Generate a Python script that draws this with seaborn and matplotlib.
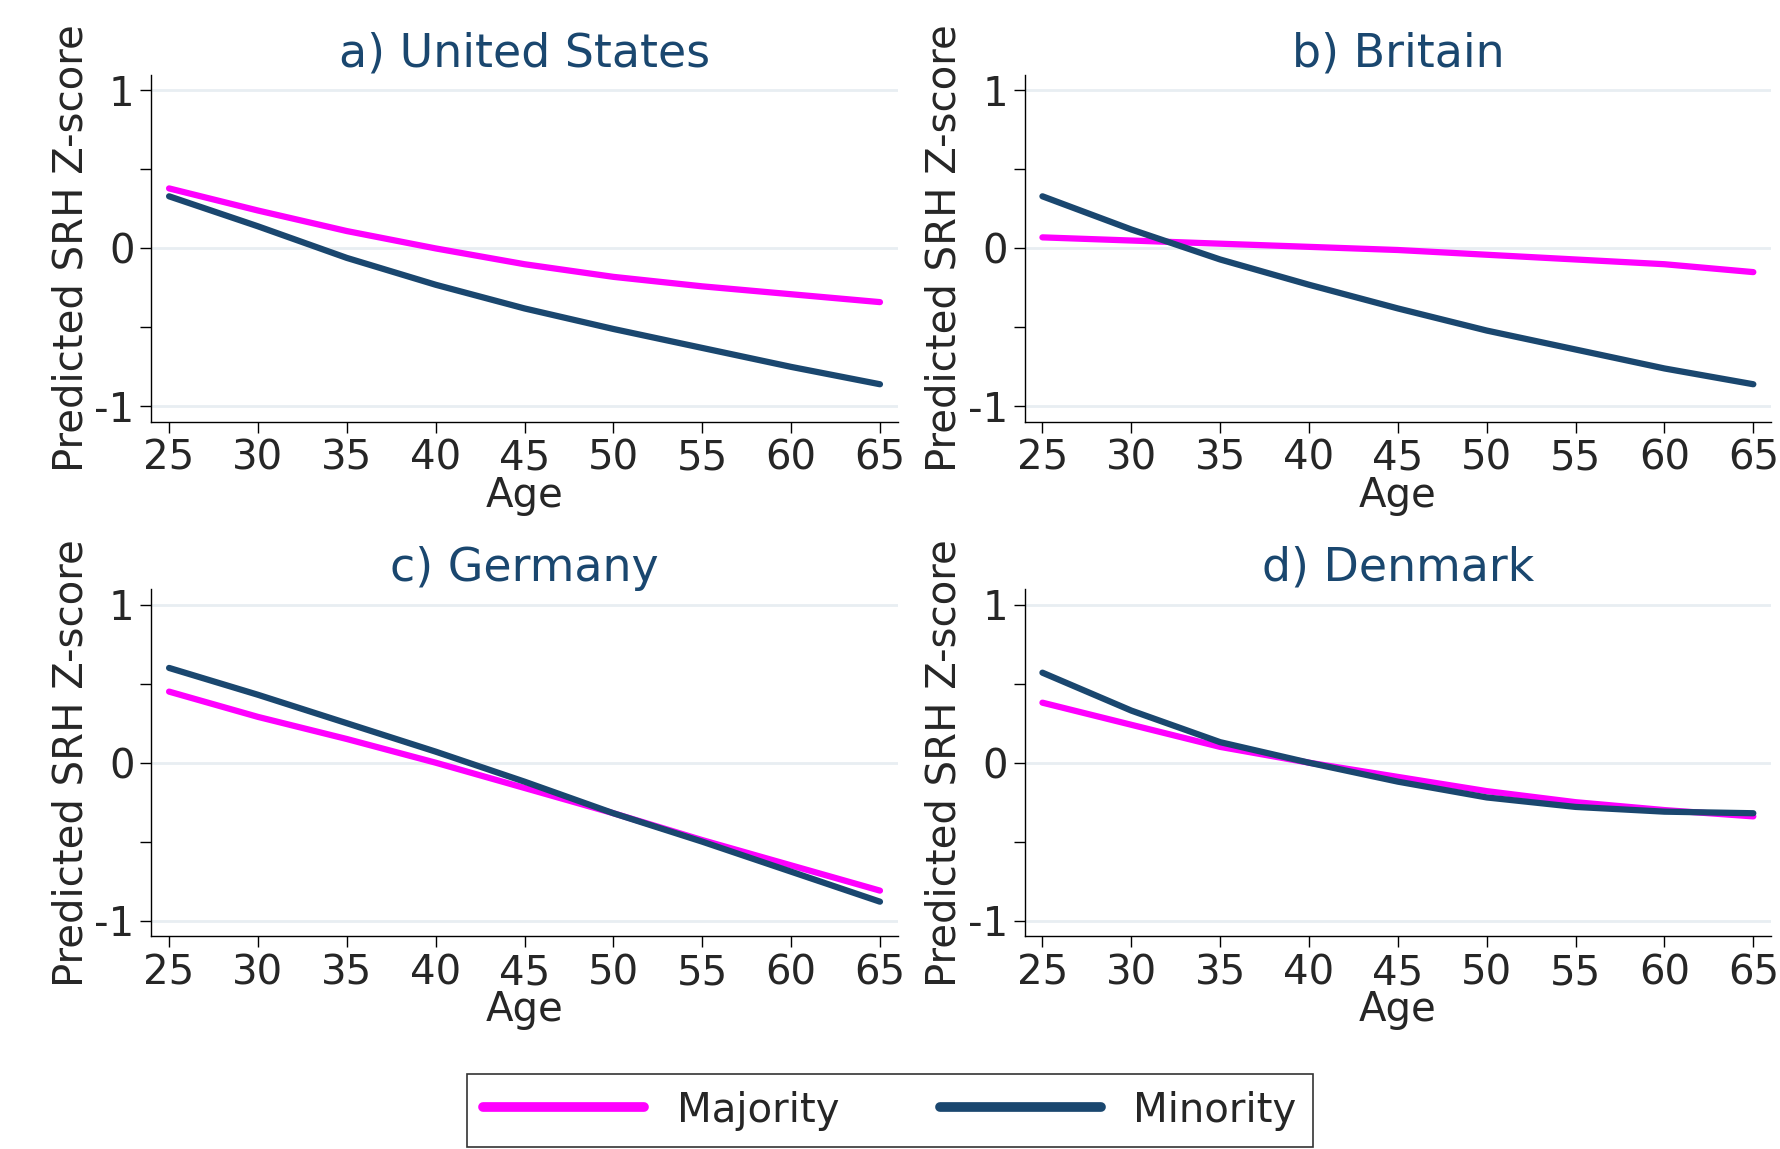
import matplotlib
matplotlib.use('Agg')
import matplotlib.pyplot as plt
import seaborn as sns
import pandas as pd
from matplotlib.lines import Line2D

ages = [25, 30, 35, 40, 45, 50, 55, 60, 65]
titles = ['a) United States', 'b) Britain', 'c) Germany', 'd) Denmark']
majority = [
    [0.38, 0.24, 0.11, 0.0, -0.10, -0.18, -0.24, -0.29, -0.34],
    [0.07, 0.05, 0.03, 0.01, -0.01, -0.04, -0.07, -0.10, -0.15],
    [0.45, 0.29, 0.15, 0.0, -0.16, -0.32, -0.49, -0.65, -0.81],
    [0.38, 0.24, 0.10, 0.0, -0.09, -0.18, -0.25, -0.30, -0.34],
]
minority = [
    [0.33, 0.14, -0.06, -0.23, -0.38, -0.51, -0.63, -0.75, -0.86],
    [0.33, 0.12, -0.07, -0.23, -0.38, -0.52, -0.64, -0.76, -0.86],
    [0.60, 0.43, 0.25, 0.07, -0.12, -0.32, -0.50, -0.69, -0.88],
    [0.57, 0.33, 0.13, 0.0, -0.12, -0.22, -0.28, -0.31, -0.32],
]

sns.set_style('white')
plt.rcParams['font.family'] = ['DejaVu Sans']
navy = '#1a476f'
palette = {'Majority': '#ff00ff', 'Minority': navy}

fig, axes = plt.subplots(2, 2, figsize=(17.8, 11.49), dpi=100)
for i, ax in enumerate(axes.flat):
    df = pd.DataFrame({'Age': ages * 2,
                       'z': majority[i] + minority[i],
                       'group': ['Majority'] * 9 + ['Minority'] * 9})
    sns.lineplot(data=df, x='Age', y='z', hue='group', palette=palette,
                 linewidth=4.5, ax=ax, legend=False)
    ax.set_ylim(-1.1, 1.1)
    ax.set_xlim(24, 66)
    ax.set_yticks([-1, -0.5, 0, 0.5, 1])
    ax.set_yticklabels(['-1', '', '0', '', '1'])
    ax.set_xticks(ages)
    for y in [-1, 0, 1]:
        ax.axhline(y, color='#e8eef2', lw=2, zorder=0)
    for s in ['top', 'right']:
        ax.spines[s].set_visible(False)
    for s in ['left', 'bottom']:
        ax.spines[s].set_color('black')
        ax.spines[s].set_linewidth(1)
    ax.tick_params(axis='both', labelsize=29, length=8, width=1, color='black',
                   left=True, bottom=True, pad=4)
    ax.set_xlabel('Age', fontsize=29, labelpad=-2)
    ax.set_ylabel('Predicted SRH Z-score', fontsize=29, labelpad=2)
    ax.set_title(titles[i], fontsize=33, color=navy, pad=6)

handles = [Line2D([], [], color=palette[k], lw=7) for k in palette]
leg = fig.legend(handles, list(palette), loc='lower center', ncol=2, fontsize=29,
                 frameon=True, fancybox=False, edgecolor='black', handlelength=4,
                 columnspacing=2.5, bbox_to_anchor=(0.5, 0.002), borderaxespad=0)
leg.get_frame().set_linewidth(1.2)
fig.subplots_adjust(left=0.085, right=0.995, top=0.935, bottom=0.185, hspace=0.48, wspace=0.17)
fig.savefig('out.png', dpi=100, facecolor='white')
